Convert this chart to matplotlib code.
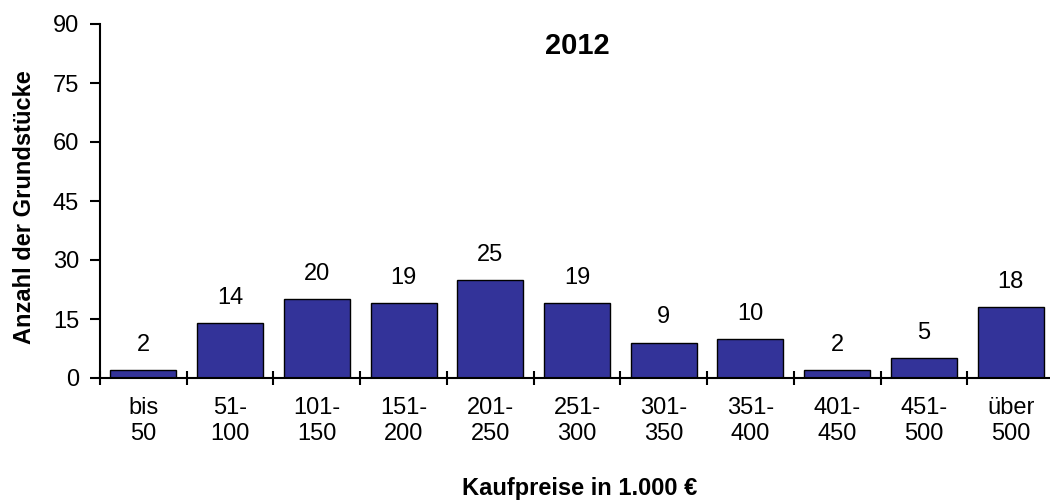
import matplotlib
matplotlib.use("Agg")
import matplotlib.pyplot as plt
import numpy as np

categories = ["bis\n50", "51-\n100", "101-\n150", "151-\n200", "201-\n250", "251-\n300",
              "301-\n350", "351-\n400", "401-\n450", "451-\n500", "über\n500"]
values = [2, 14, 20, 19, 25, 19, 9, 10, 2, 5, 18]
yticks = [0, 15, 30, 45, 60, 75, 90]
title = "2012"
ylabel = "Anzahl der Grundstücke"
xlabel = "Kaufpreise in 1.000 €"

plt.rcParams['font.family'] = ['Liberation Sans', 'DejaVu Sans']

fig = plt.figure(figsize=(10.5, 5), dpi=100)
ax = fig.add_axes([100/1050, 1-378/500, 954/1050, (378-24)/500])

x = np.arange(len(values)) + 0.5
ax.bar(x, values, width=0.76, color="#333399", edgecolor="black", linewidth=1.0, zorder=2)
for xi, v in zip(x, values):
    ax.text(xi, v + 3.6, str(v), ha="center", va="bottom", fontsize=17)

ax.set_xlim(0, len(values))
ax.set_ylim(0, 90)
ax.set_yticks(yticks)
ax.tick_params(axis="y", direction="out", length=7, width=1.5, labelsize=17, pad=8)
ax.set_xticks(np.arange(len(values)))
ax.set_xticklabels([])
ax.set_xticks(x, minor=True)
ax.set_xticklabels(categories, minor=True, fontsize=17, linespacing=1.23)
ax.tick_params(axis="x", which="major", direction="inout", length=10, width=1.5)
ax.tick_params(axis="x", which="minor", length=0, pad=14)

for s in ["top", "right"]:
    ax.spines[s].set_visible(False)
for s in ["left", "bottom"]:
    ax.spines[s].set_linewidth(1.5)

fig.text(577/1050, 1-46/500, title, ha="center", va="center", fontsize=21, fontweight="bold")
fig.text(25/1050, 1-207/500, ylabel, rotation=90, ha="center", va="center", fontsize=17, fontweight="bold")
fig.text(580/1050, 1-488/500, xlabel, ha="center", va="center", fontsize=17, fontweight="bold")

fig.savefig("out.png", dpi=100)
